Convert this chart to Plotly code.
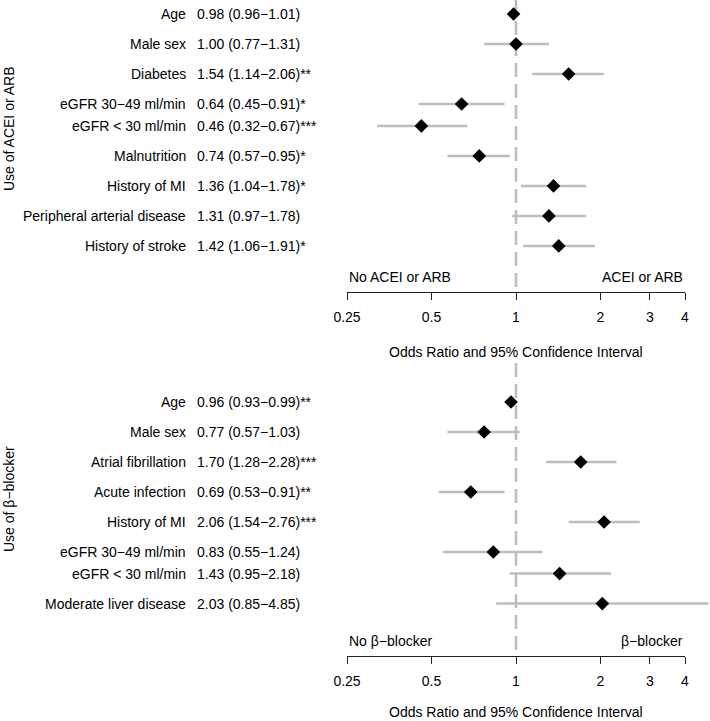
import math
import plotly.graph_objects as go

# ---------------- data ----------------
acei_labels = ["Age", "Male sex", "Diabetes", "eGFR 30\u221249 ml/min", "eGFR < 30 ml/min",
               "Malnutrition", "History of MI", "Peripheral arterial disease", "History of stroke"]
acei_or = [0.98, 1.00, 1.54, 0.64, 0.46, 0.74, 1.36, 1.31, 1.42]
acei_lo = [0.96, 0.77, 1.14, 0.45, 0.32, 0.57, 1.04, 0.97, 1.06]
acei_hi = [1.01, 1.31, 2.06, 0.91, 0.67, 0.95, 1.78, 1.78, 1.91]
acei_sig = ["", "", "**", "*", "***", "*", "*", "", "*"]

bb_labels = ["Age", "Male sex", "Atrial fibrillation", "Acute infection", "History of MI",
             "eGFR 30\u221249 ml/min", "eGFR < 30 ml/min", "Moderate liver disease"]
bb_or = [0.96, 0.77, 1.70, 0.69, 2.06, 0.83, 1.43, 2.03]
bb_lo = [0.93, 0.57, 1.28, 0.53, 1.54, 0.55, 0.95, 0.85]
bb_hi = [0.99, 1.03, 2.28, 0.91, 2.76, 1.24, 2.18, 4.85]
bb_sig = ["**", "", "***", "**", "***", "", "", ""]

tick_vals = [0.25, 0.5, 1, 2, 3, 4]
tick_text = ["0.25", "0.5", "1", "2", "3", "4"]

# ---------------- layout constants ----------------
W, H = 710, 721
FONT = "Liberation Sans, Arial, Helvetica, sans-serif"
FS = 14
GREY = "#bdbdbd"
ROW = 30.0

acei_pos = [1, 2, 3, 4, 4.73, 5.73, 6.73, 7.73, 8.73]
bb_pos = [1, 2, 3, 4, 5, 6, 6.72, 7.72]

x_left_px, x_right_px = 347, 685          # pixel positions of 0.25 and 4
px_per_dec = (x_right_px - x_left_px) / math.log10(16)
data_range_hi = math.log10(0.25) + (W - x_left_px) / px_per_dec

panels = [
    dict(labels=acei_labels, orv=acei_or, lo=acei_lo, hi=acei_hi, sig=acei_sig, pos=acei_pos,
         top_px=0, axis_px=292, first_row_px=14, xa="x", xd="x3", ya="y", title_off=60,
         title="Use of ACEI or ARB", title_px=129, left="No ACEI or ARB", right="ACEI or ARB"),
    dict(labels=bb_labels, orv=bb_or, lo=bb_lo, hi=bb_hi, sig=bb_sig, pos=bb_pos,
         top_px=363, axis_px=656, first_row_px=402, xa="x2", xd="x4", ya="y2", title_off=56,
         title="Use of \u03b2\u2212blocker", title_px=499, left="No \u03b2\u2212blocker", right="\u03b2\u2212blocker"),
]

fig = go.Figure()
annotations = []
layout_axes = {}

for p in panels:
    y_top = 1 - (p["first_row_px"] - p["top_px"]) / ROW
    y_bot = 1 + (p["axis_px"] - p["first_row_px"]) / ROW

    fig.add_trace(go.Scatter(x=[1, 1], y=[y_top, y_bot], mode="lines", xaxis=p["xa"], yaxis=p["ya"],
                             line=dict(color=GREY, width=2.5, dash="14px,7px"),
                             hoverinfo="skip", showlegend=False))
    cx, cy = [], []
    for lo, hi, y in zip(p["lo"], p["hi"], p["pos"]):
        cx += [lo, hi, None]
        cy += [y, y, None]
    fig.add_trace(go.Scatter(x=cx, y=cy, mode="lines", xaxis=p["xd"], yaxis=p["ya"],
                             line=dict(color=GREY, width=2.5), hoverinfo="skip", showlegend=False))
    fig.add_trace(go.Scatter(x=p["orv"], y=p["pos"], mode="markers", xaxis=p["xd"], yaxis=p["ya"],
                             marker=dict(symbol="diamond", size=10.5, color="black"),
                             showlegend=False))

    ykey = "yaxis" if p["ya"] == "y" else "yaxis2"
    d0 = 1 - p["axis_px"] / H
    d1 = 1 - p["top_px"] / H
    layout_axes[ykey] = dict(domain=[d0, d1], range=[y_bot, y_top], visible=False,
                             automargin=False, fixedrange=True)

    xa_key = "xaxis" if p["xa"] == "x" else "xaxis2"
    xd_key = "xaxis3" if p["xd"] == "x3" else "xaxis4"
    layout_axes[xa_key] = dict(
        type="log", domain=[x_left_px / W, x_right_px / W], anchor=p["ya"],
        range=[math.log10(0.25), math.log10(4)], automargin=False,
        showline=True, linecolor="#222", linewidth=1, ticks="outside", ticklen=7,
        tickcolor="#222", tickwidth=1, tickvals=tick_vals, ticktext=tick_text,
        ticklabelstandoff=5, showgrid=False, zeroline=False,
        tickfont=dict(family=FONT, size=FS, color="black"))
    layout_axes[xd_key] = dict(
        type="log", domain=[x_left_px / W, 1], anchor=p["ya"], automargin=False,
        range=[math.log10(0.25), data_range_hi], visible=False)

    for lab, o, lo, hi, s, y in zip(p["labels"], p["orv"], p["lo"], p["hi"], p["sig"], p["pos"]):
        annotations.append(dict(text=lab, x=188 / W, xref="paper", xanchor="right",
                                y=y, yref=p["ya"], yanchor="middle", showarrow=False))
        txt = f"{o:.2f} ({lo:.2f}\u2212{hi:.2f})" + s
        annotations.append(dict(text=txt, x=195 / W, xref="paper", xanchor="left",
                                y=y, yref=p["ya"], yanchor="middle", showarrow=False))

    annotations.append(dict(text=p["title"], textangle=-90, x=9 / W, xref="paper", xanchor="center",
                            y=1 - p["title_px"] / H, yref="paper", yanchor="middle", showarrow=False))
    h_panel = p["axis_px"] - p["top_px"]
    dir_y = 15 / h_panel
    annotations.append(dict(text=p["left"], x=0, xref=p["xa"] + " domain", xanchor="left",
                            y=dir_y, yref=p["ya"] + " domain", yanchor="middle", showarrow=False))
    annotations.append(dict(text=p["right"], x=1, xref=p["xa"] + " domain", xanchor="right",
                            y=dir_y, yref=p["ya"] + " domain", yanchor="middle", showarrow=False))
    annotations.append(dict(text="Odds Ratio and 95% Confidence Interval", x=0.5,
                            xref=p["xa"] + " domain", xanchor="center",
                            y=-p["title_off"] / h_panel, yref=p["ya"] + " domain", yanchor="middle",
                            showarrow=False))

fig.update_layout(
    template="none",
    width=W, height=H, margin=dict(l=0, r=0, t=0, b=0, pad=0, autoexpand=False),
    paper_bgcolor="white", plot_bgcolor="rgba(0,0,0,0)",
    font=dict(family=FONT, size=FS, color="black"),
    showlegend=False, annotations=annotations, **layout_axes)

fig.write_html("out.html", config={"displayModeBar": False},
               post_script="document.body.style.margin='0';document.body.style.overflow='hidden';")
